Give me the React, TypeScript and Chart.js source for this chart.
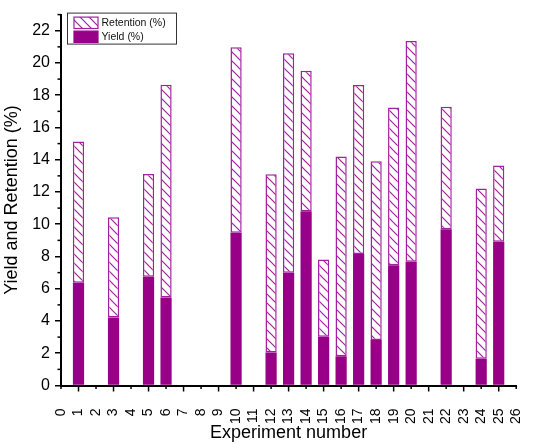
import { useEffect, useRef } from "react";
import { Chart, registerables } from "chart.js";

Chart.register(...registerables);

const experiments = [1, 3, 5, 6, 10, 12, 13, 14, 15, 16, 17, 18, 19, 20, 22, 24, 25];
const yieldValues = [6.37, 4.21, 6.75, 5.46, 9.47, 2.04, 6.99, 10.8, 3.03, 1.82, 8.16, 2.82, 7.46, 7.68, 9.69, 1.66, 8.92];
const retentionValues = [8.76, 6.23, 6.37, 13.19, 11.5, 11.06, 13.61, 8.72, 4.79, 12.38, 10.47, 11.08, 9.78, 13.69, 7.6, 10.55, 4.72];
const yMajorTicks = [0, 2, 4, 6, 8, 10, 12, 14, 16, 18, 20, 22];
const yMinorTicks = [1, 3, 5, 7, 9, 11, 13, 15, 17, 19, 21, 23];
const xTicks = [0, 1, 2, 3, 4, 5, 6, 7, 8, 9, 10, 11, 12, 13, 14, 15, 16, 17, 18, 19, 20, 21, 22, 23, 24, 25, 26];
const seriesNames = ["Retention (%)", "Yield (%)"];

const SOLID = "#990088";
const HATCH = "#A3209F";
const FONT = "'Liberation Sans', Arial, sans-serif";

function makeHatch(): CanvasPattern | string {
  const s = 9;
  const c = document.createElement("canvas");
  c.width = s;
  c.height = s;
  const g = c.getContext("2d");
  if (!g) return "#fff";
  g.fillStyle = "#fff";
  g.fillRect(0, 0, s, s);
  g.strokeStyle = HATCH;
  g.lineWidth = 1.2;
  for (const k of [-s, 0, s]) {
    g.beginPath();
    g.moveTo(k - 1, -1);
    g.lineTo(k + s + 1, s + 1);
    g.stroke();
  }
  return g.createPattern(c, "repeat") || "#fff";
}

export default function App() {
  const ref = useRef<HTMLCanvasElement | null>(null);

  useEffect(() => {
    document.body.style.margin = "0";
    const canvas = ref.current;
    if (!canvas) return;
    const hatch = makeHatch();

    const extras = {
      id: "extras",
      afterDraw(chart: any) {
        const ctx = chart.ctx as CanvasRenderingContext2D;
        const xs = chart.scales.x;
        const ys = chart.scales.y;
        const area = chart.chartArea;
        ctx.save();
        ctx.strokeStyle = "#000";
        ctx.lineWidth = 1.5;
        for (const v of yMinorTicks) {
          const py = ys.getPixelForValue(v);
          ctx.beginPath();
          ctx.moveTo(area.left - 3.5, py);
          ctx.lineTo(area.left, py);
          ctx.stroke();
        }
        for (const v of xTicks) {
          const px = xs.getPixelForValue(v);
          const len = v % 2 === 1 ? 6 : 3.5;
          ctx.beginPath();
          ctx.moveTo(px, area.bottom);
          ctx.lineTo(px, area.bottom + len);
          ctx.stroke();
        }
        // legend box
        const lx = area.left + 6.5;
        const ly = area.top - 1.5;
        ctx.fillStyle = "#fff";
        ctx.fillRect(lx, ly, 109, 31);
        ctx.strokeStyle = "#333";
        ctx.lineWidth = 1;
        ctx.strokeRect(lx, ly, 109, 31);
        const sx = lx + 6.5;
        const entries = [
          { fill: hatch as any, stroke: HATCH, y: ly + 4 },
          { fill: SOLID, stroke: SOLID, y: ly + 18 },
        ];
        ctx.font = `10.5px ${FONT}`;
        ctx.textBaseline = "middle";
        ctx.textAlign = "left";
        entries.forEach((e, i) => {
          ctx.fillStyle = e.fill;
          ctx.fillRect(sx, e.y, 24, 11.4);
          ctx.strokeStyle = e.stroke;
          ctx.lineWidth = 1.2;
          ctx.strokeRect(sx, e.y, 24, 11.4);
          ctx.fillStyle = "#111";
          ctx.fillText(seriesNames[i], sx + 27.5, e.y + 6);
        });
        ctx.restore();
      },
    };

    const chart = new Chart(canvas, {
      type: "bar",
      data: {
        datasets: [
          {
            label: seriesNames[1],
            data: experiments.map((x, i) => ({ x, y: yieldValues[i] })),
            backgroundColor: SOLID,
            borderWidth: 0,
            stack: "s",
            categoryPercentage: 1,
            barPercentage: 0.64,
          },
          {
            label: seriesNames[0],
            data: experiments.map((x, i) => ({ x, y: retentionValues[i] })),
            backgroundColor: hatch as any,
            borderColor: HATCH,
            borderWidth: 1.5,
            borderSkipped: false,
            stack: "s",
            categoryPercentage: 1,
            barPercentage: 0.64,
          },
        ],
      },
      options: {
        animation: false,
        responsive: true,
        maintainAspectRatio: false,
        layout: { padding: { top: 5, right: 11, left: 0, bottom: 0 } },
        plugins: { legend: { display: false }, tooltip: { enabled: false } },
        scales: {
          x: {
            type: "linear",
            stacked: true,
            offset: false,
            min: 0,
            max: 26,
            afterFit: (s: any) => {
              s.height = 58.5;
            },
            afterBuildTicks: (s: any) => {
              s.ticks = xTicks.map((v) => ({ value: v }));
            },
            ticks: {
              autoSkip: false,
              maxRotation: 90,
              minRotation: 90,
              stepSize: 1,
              padding: 17,
              color: "#000",
              font: { size: 14, family: FONT },
            },
            grid: {
              display: true,
              drawOnChartArea: false,
              drawTicks: true,
              tickLength: 6,
              color: "rgba(0,0,0,0)",
              offset: false,
            },
            border: { display: true, color: "#000", width: 2 },
            title: {
              display: true,
              text: "Experiment number",
              color: "#000",
              font: { size: 18, family: FONT },
              padding: { top: 0, bottom: 0 },
            },
          },
          y: {
            type: "linear",
            stacked: true,
            min: 0,
            max: 23,
            afterFit: (s: any) => {
              s.width = 61;
            },
            afterBuildTicks: (s: any) => {
              s.ticks = yMajorTicks.map((v) => ({ value: v }));
            },
            ticks: {
              padding: 5,
              color: "#000",
              font: { size: 16, family: FONT },
            },
            grid: {
              display: true,
              drawOnChartArea: false,
              drawTicks: true,
              tickLength: 6,
              color: "#000",
              lineWidth: 1.5,
            },
            border: { display: true, color: "#000", width: 2 },
            title: {
              display: true,
              text: "Yield and Retention (%)",
              color: "#000",
              font: { size: 18, family: FONT },
              padding: { top: 1, bottom: 0 },
            },
          },
        },
      },
      plugins: [extras],
    });

    return () => chart.destroy();
  }, []);

  return (
    <div style={{ position: "relative", width: 550, height: 444 }}>
      <canvas ref={ref} />
    </div>
  );
}
